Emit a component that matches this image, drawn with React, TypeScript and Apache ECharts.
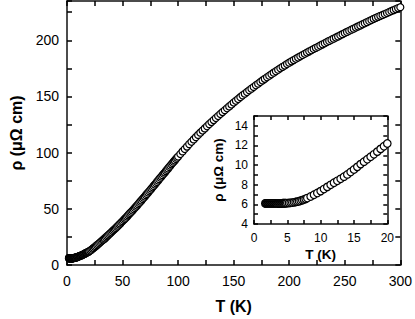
import React, { useEffect, useRef } from 'react';
import * as echarts from 'echarts';

// Low-temperature measurements (T in K, rho in µΩ cm) — shown in inset and main plot
const tLow = [
  1.7, 1.8, 1.9, 2.0, 2.1, 2.2, 2.3, 2.4, 2.5, 2.6, 2.7, 2.8, 2.9, 3.0, 3.1, 3.2,
  3.3, 3.4, 3.5, 3.6, 3.7, 3.8, 3.9, 4.0, 4.1, 4.2, 4.3, 4.4, 4.5, 4.6, 4.7, 4.8,
  5.0, 5.25, 5.5, 5.75, 6.0, 6.25, 6.5, 6.75, 7.0, 7.25, 7.5, 7.75, 8.0,
  8.5, 9.0, 9.5, 10.0, 10.5, 11.0, 11.5, 12.0, 12.5, 13.0, 13.5, 14.0, 14.5, 15.0,
  15.5, 16.0, 16.5, 17.0, 17.5, 18.0, 18.5, 19.0, 19.5, 20.0,
];
const rhoLow = [
  6.10, 6.10, 6.10, 6.10, 6.10, 6.10, 6.10, 6.10, 6.10, 6.10, 6.10, 6.10, 6.10, 6.10, 6.10, 6.10,
  6.10, 6.10, 6.10, 6.11, 6.11, 6.11, 6.11, 6.11, 6.11, 6.11, 6.12, 6.12, 6.12, 6.12, 6.12, 6.12,
  6.13, 6.14, 6.16, 6.18, 6.21, 6.24, 6.28, 6.32, 6.37, 6.43, 6.49, 6.56, 6.64,
  6.80, 6.98, 7.16, 7.35, 7.56, 7.78, 7.99, 8.20, 8.40, 8.60, 8.82, 9.05, 9.30, 9.55,
  9.82, 10.10, 10.35, 10.60, 10.85, 11.10, 11.37, 11.65, 11.92, 12.20,
];

// Intermediate temperatures (1 K spacing)
const tMid = [
  21, 22, 23, 24, 25, 26, 27, 28, 29, 30, 31, 32, 33, 34, 35, 36, 37, 38, 39, 40,
  41, 42, 43, 44, 45, 46, 47, 48, 49, 50, 51, 52, 53, 54, 55, 56, 57, 58, 59, 60,
  61, 62, 63, 64, 65, 66, 67, 68, 69, 70, 71, 72, 73, 74, 75, 76, 77, 78, 79, 80,
  81, 82, 83, 84, 85, 86, 87, 88, 89, 90, 91, 92, 93, 94, 95, 96, 97, 98, 99, 100,
];
const rhoMid = [
  12.9, 13.6, 14.4, 15.2, 16.0, 16.8, 17.7, 18.5, 19.3, 20.2, 21.1, 22.0, 22.8, 23.7, 24.6, 25.5, 26.4, 27.4, 28.3, 29.2,
  30.2, 31.1, 32.1, 33.0, 34.0, 35.0, 36.0, 37.0, 38.0, 39.0, 40.0, 41.1, 42.1, 43.2, 44.2, 45.3, 46.4, 47.4, 48.5, 49.6,
  50.7, 51.8, 52.9, 54.1, 55.2, 56.4, 57.5, 58.7, 59.8, 61.0, 62.2, 63.3, 64.5, 65.6, 66.8, 68.0, 69.2, 70.4, 71.6, 72.8,
  74.0, 75.2, 76.4, 77.6, 78.8, 80.0, 81.2, 82.4, 83.6, 84.8, 86.0, 87.2, 88.4, 89.6, 90.8, 92.0, 93.1, 94.3, 95.5, 96.6,
];

// High temperatures (2 K spacing)
const tHigh = [
  102, 104, 106, 108, 110, 112, 114, 116, 118, 120, 122, 124, 126, 128, 130, 132, 134, 136, 138, 140,
  142, 144, 146, 148, 150, 152, 154, 156, 158, 160, 162, 164, 166, 168, 170, 172, 174, 176, 178, 180,
  182, 184, 186, 188, 190, 192, 194, 196, 198, 200, 202, 204, 206, 208, 210, 212, 214, 216, 218, 220,
  222, 224, 226, 228, 230, 232, 234, 236, 238, 240, 242, 244, 246, 248, 250, 252, 254, 256, 258, 260,
  262, 264, 266, 268, 270, 272, 274, 276, 278, 280, 282, 284, 286, 288, 290, 292, 294, 296, 298, 300,
];
const rhoHigh = [
  98.8, 101.1, 103.3, 105.4, 107.6, 109.7, 111.8, 113.8, 115.8, 117.8, 119.7, 121.6, 123.5, 125.4, 127.2, 129.0, 130.8, 132.6, 134.4, 136.1,
  137.8, 139.5, 141.2, 142.9, 144.6, 146.2, 147.8, 149.4, 151.0, 152.5, 154.0, 155.5, 157.0, 158.5, 160.0, 161.4, 162.9, 164.3, 165.7, 167.1,
  168.5, 169.8, 171.2, 172.5, 173.8, 175.1, 176.4, 177.6, 178.9, 180.1, 181.3, 182.4, 183.6, 184.7, 185.8, 186.9, 188.0, 189.1, 190.2, 191.2,
  192.3, 193.3, 194.3, 195.4, 196.4, 197.4, 198.5, 199.5, 200.5, 201.5, 202.5, 203.5, 204.5, 205.5, 206.5, 207.5, 208.5, 209.5, 210.4, 211.4,
  212.4, 213.3, 214.3, 215.2, 216.2, 217.2, 218.1, 219.1, 220.0, 220.9, 221.8, 222.6, 223.4, 224.3, 225.2, 226.1, 226.9, 227.8, 228.7, 229.5,
];

// Axis ranges / tick steps
const mainX = { min: 0, max: 300, step: 25, labelStep: 50 };
const mainY = { min: 0, max: 235, step: 25, labelStep: 50 };
const insetX = { min: 0, max: 20, step: 2.5, labelStep: 5 };
const insetY = { min: 4, max: 15, step: 1, labelStep: 2 };

const FONT = '"Liberation Sans", Arial, Helvetica, sans-serif';
const INK = '#111';

function isMultiple(v: number, step: number) {
  const r = Math.abs(v / step - Math.round(v / step));
  return r < 1e-6;
}

function makeAxis(opts: any) {
  const { range, gridIndex, position, showLabel, fontSize, margin, name, nameGap, nameSize, tickLen, z } = opts;
  const axis: any = {
    type: 'value',
    gridIndex,
    position,
    min: range.min,
    max: range.max,
    interval: range.step,
    z,
    axisLine: { show: true, onZero: false, lineStyle: { color: INK, width: 1.5 } },
    axisTick: { show: true, inside: true, length: tickLen, lineStyle: { color: '#000', width: 1.5 } },
    splitLine: { show: false },
    axisLabel: showLabel
      ? {
          show: true,
          color: '#000',
          fontFamily: FONT,
          fontSize,
          margin,
          formatter: (v: number) => (isMultiple(v, range.labelStep) ? String(v) : ''),
        }
      : { show: false },
  };
  if (name) {
    axis.name = name;
    axis.nameLocation = 'middle';
    axis.nameGap = nameGap;
    axis.nameTextStyle = { fontFamily: FONT, fontWeight: 'bold', fontSize: nameSize, color: '#000' };
  }
  return axis;
}

export default function App() {
  const ref = useRef<HTMLDivElement>(null);
  useEffect(() => {
    if (!ref.current) return;
    const chart = echarts.init(ref.current, undefined, { renderer: 'svg' });
    const lowPts = tLow.map((t, i) => [t, rhoLow[i]]);
    const mainData = lowPts
      .concat(tMid.map((t, i) => [t, rhoMid[i]]))
      .concat(tHigh.map((t, i) => [t, rhoHigh[i]]));
    chart.setOption({
      animation: false,
      backgroundColor: '#fff',
      grid: [
        { left: 55, top: 1, right: 13.3, bottom: 51.3 },
        { left: 254, top: 116, right: 27.7, bottom: 95, show: true, backgroundColor: '#fff', borderWidth: 0, z: 5 },
      ],
      xAxis: [
        makeAxis({ range: mainX, gridIndex: 0, position: 'bottom', showLabel: true, fontSize: 14, margin: 9, name: 'T (K)', nameGap: 33, nameSize: 16, tickLen: 5, z: 1 }),
        makeAxis({ range: mainX, gridIndex: 0, position: 'top', showLabel: false, tickLen: 5, z: 1 }),
        makeAxis({ range: insetX, gridIndex: 1, position: 'bottom', showLabel: true, fontSize: 12, margin: 8, name: 'T (K)', nameGap: 23, nameSize: 13.5, tickLen: 4, z: 6 }),
        makeAxis({ range: insetX, gridIndex: 1, position: 'top', showLabel: false, tickLen: 4, z: 6 }),
      ],
      yAxis: [
        makeAxis({ range: mainY, gridIndex: 0, position: 'left', showLabel: true, fontSize: 14, margin: 8, name: 'ρ (μΩ cm)', nameGap: 43, nameSize: 16, tickLen: 5, z: 1 }),
        makeAxis({ range: mainY, gridIndex: 0, position: 'right', showLabel: false, tickLen: 5, z: 1 }),
        makeAxis({ range: insetY, gridIndex: 1, position: 'left', showLabel: true, fontSize: 12, margin: 6, name: 'ρ (μΩ cm)', nameGap: 29, nameSize: 13.5, tickLen: 4, z: 6 }),
        makeAxis({ range: insetY, gridIndex: 1, position: 'right', showLabel: false, tickLen: 4, z: 6 }),
      ],
      series: [
        {
          type: 'scatter',
          xAxisIndex: 0,
          yAxisIndex: 0,
          data: mainData,
          symbol: 'circle',
          symbolSize: 7,
          itemStyle: { color: '#fff', borderColor: '#000', borderWidth: 1.2, opacity: 1 },
          z: 2,
        },
        {
          type: 'scatter',
          xAxisIndex: 2,
          yAxisIndex: 2,
          data: lowPts,
          symbol: 'circle',
          symbolSize: 7.5,
          itemStyle: { color: '#fff', borderColor: '#000', borderWidth: 1.2, opacity: 1 },
          z: 7,
        },
      ],
    });
    return () => chart.dispose();
  }, []);
  return <div ref={ref} style={{ position: 'absolute', left: 0, top: 0, width: 415, height: 319 }} />;
}
